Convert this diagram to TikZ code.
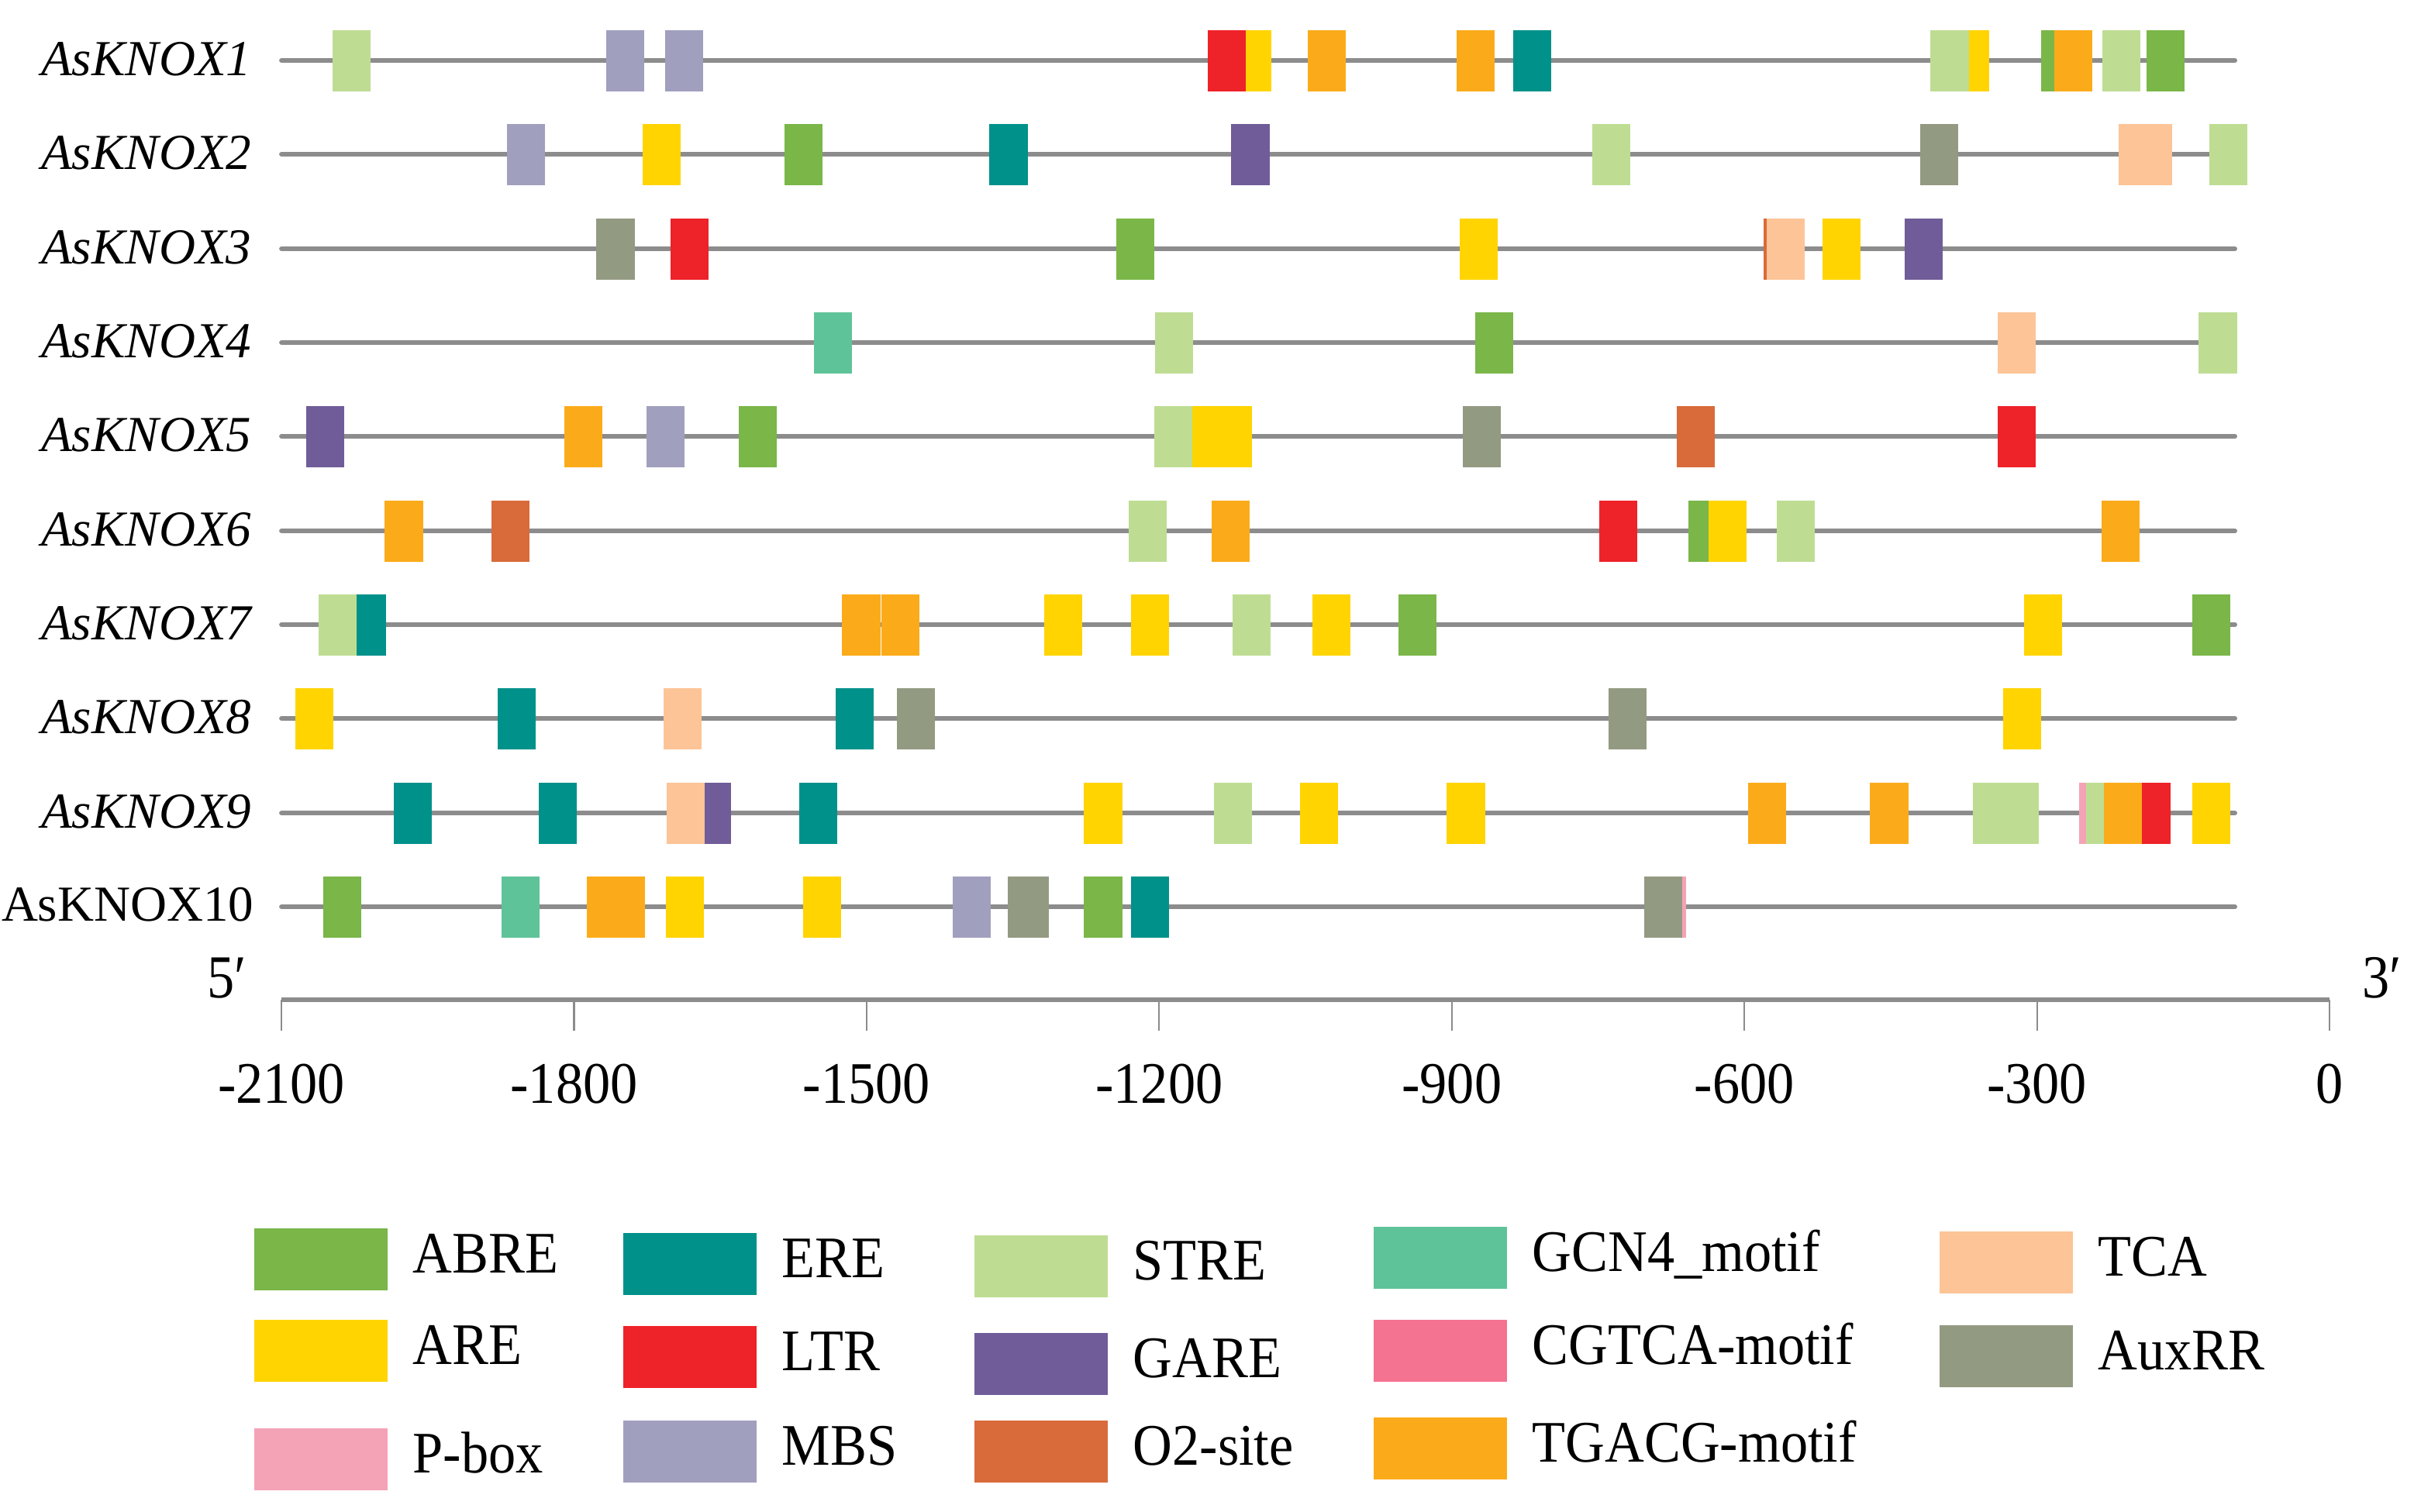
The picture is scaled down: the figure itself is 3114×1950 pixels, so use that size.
\documentclass[tikz,border=0pt]{standalone}
\usepackage{fontspec}
\setmainfont{Liberation Serif}
\definecolor{ABRE}{HTML}{7AB648}
\definecolor{ARE}{HTML}{FFD400}
\definecolor{Pbox}{HTML}{F4A3B6}
\definecolor{ERE}{HTML}{00918A}
\definecolor{LTR}{HTML}{EE2229}
\definecolor{MBS}{HTML}{A09FBE}
\definecolor{STRE}{HTML}{BEDD93}
\definecolor{GARE}{HTML}{705C98}
\definecolor{Otwo}{HTML}{D96A3A}
\definecolor{GCN}{HTML}{5FC399}
\definecolor{CGTCA}{HTML}{F47391}
\definecolor{TGACG}{HTML}{FBAB1A}
\definecolor{TCA}{HTML}{FCC497}
\definecolor{AuxRR}{HTML}{939A82}
\definecolor{seqgray}{HTML}{8C8C8C}
\tikzset{
  gene/.style={line width=1.7pt, draw=seqgray, line cap=round},
  tick/.style={line width=0.6pt, draw=seqgray},
  genename/.style={anchor=base east, inner sep=0pt, font=\fontsize{18.5}{22}\selectfont},
  ticklabel/.style={anchor=base, inner sep=0pt, font=\fontsize{20}{24}\selectfont},
  legtext/.style={anchor=base west, inner sep=0pt, font=\fontsize{20}{24}\selectfont}
}
% promoter line at height #1, motifs start/colour in #2 (width 39 bp)
\newcommand{\motifs}[2]{%
  \draw[gene] (-2100,#1) -- (-97,#1);
  \foreach \s/\c in {#2} \fill[\c] (\s,#1-39.5) rectangle ++(39,79);
}
\newcommand{\tall}[1]{\scalebox{1}[1.08]{#1}}
\begin{document}
\begin{tikzpicture}[x=0.01cm, y=-0.01cm]
\useasboundingbox (0,0) rectangle (3114,1950);

% gene names
\foreach \r/\y in {1/78,2/199,3/321,4/442,5/563,6/685,7/806,8/927,9/1049}
  \node[genename, font=\fontsize{18.5}{22}\selectfont\itshape] (name\r) at (325,\y+19) {AsKNOX\r};
\node[genename] (name10) at (328,1188) {AsKNOX10};

\begin{scope}[shift={(3005,0)}, x=0.01258cm]
\motifs{78}{-2048/STRE, -1767/MBS, -1707/MBS, -1124/ARE, -1150/LTR, -1048/TGACG, -895/TGACG, -837/ERE, -388/ARE, -409/STRE, -296/ABRE, -282/TGACG, -233/STRE, -188/ABRE}
\motifs{199}{-1869/MBS, -1730/ARE, -1584/ABRE, -1374/ERE, -1126/GARE, -756/STRE, -420/AuxRR, -216/TCA, -200/TCA, -123/STRE}
\motifs{321}{-1777/AuxRR, -1701/LTR, -1244/ABRE, -892/ARE, -580/Otwo, -577/TCA, -520/ARE, -436/GARE}
\motifs{442}{-1554/GCN, -1204/STRE, -876/ABRE, -340/TCA, -134/STRE}
\motifs{563}{-2075/GARE, -1810/TGACG, -1726/MBS, -1631/ABRE, -1205/STRE, -1166/ARE, -1144/ARE, -889/AuxRR, -669/Otwo, -340/LTR}
\motifs{685}{-1994/TGACG, -1885/Otwo, -1231/STRE, -1146/TGACG, -749/LTR, -657/ABRE, -637/ARE, -567/STRE, -234/TGACG}
\motifs{806}{-2032/ERE, -2062/STRE, -1525/TGACG, -1485/TGACG, -1318/ARE, -1229/ARE, -1125/STRE, -1043/ARE, -955/ABRE, -313/ARE, -141/ABRE}
\motifs{927}{-2086/ARE, -1878/ERE, -1708/TCA, -1532/ERE, -1469/AuxRR, -739/AuxRR, -335/ARE}
\motifs{1049}{-1985/ERE, -1836/ERE, -1678/GARE, -1705/TCA, -1569/ERE, -1277/ARE, -1144/STRE, -1056/ARE, -905/ARE, -596/TGACG, -471/TGACG, -366/STRE, -337/STRE, -257/Pbox, -250/STRE, -202/LTR, -231/TGACG, -141/ARE}
\motifs{1170}{-2057/ABRE, -1874/GCN, -1787/TGACG, -1766/TGACG, -1706/ARE, -1565/ARE, -1412/MBS, -1355/AuxRR, -1352/AuxRR, -1277/ABRE, -1229/ERE, -699/Pbox, -703/AuxRR}

% scale
\draw[gene, line cap=butt] (-2100,1290) -- (0,1290);
\foreach \v in {-2100,-1800,...,0}{
  \draw[tick] (\v,1290) -- (\v,1330);
  \node[ticklabel] (t\v) at (\v,1423) {\tall{\v}};
}
\end{scope}
\node[ticklabel] (five) at (293,1287) {\scalebox{1}[1.12]{5′}};
\node[ticklabel] (three) at (3073,1287) {\scalebox{1}[1.12]{3′}};

% legend
\foreach \x/\y/\c/\t in {328/1585/ABRE/ABRE, 328/1703/ARE/ARE, 328/1843/Pbox/P-box,
    804/1591/ERE/ERE, 804/1711/LTR/LTR, 804/1833/MBS/MBS,
    1257/1594/STRE/STRE, 1257/1720/GARE/GARE, 1257/1833/Otwo/O2-site,
    1772/1583/GCN/GCN4\_motif, 1772/1703/CGTCA/CGTCA-motif, 1772/1829/TGACG/TGACG-motif,
    2502/1589/TCA/TCA, 2502/1710/AuxRR/AuxRR}{
  \fill[\c] (\x,\y) rectangle ++(172,80);
  \node[legtext] (leg\c) at (\x+204,\y+57) {\tall{\t}};
}
\end{tikzpicture}
\end{document}
